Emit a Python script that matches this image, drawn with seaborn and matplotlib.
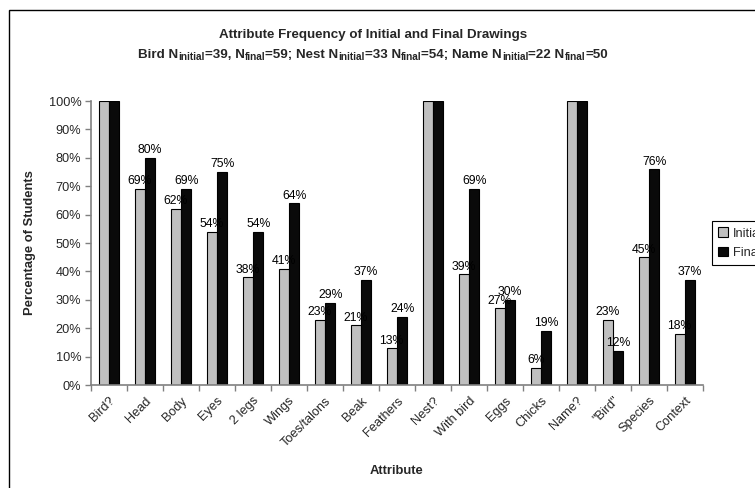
import matplotlib
matplotlib.use("Agg")
import matplotlib.pyplot as plt
import seaborn as sns
import pandas as pd
from matplotlib.patches import Patch, Rectangle

categories = ["Bird?", "Head", "Body", "Eyes", "2 legs", "Wings", "Toes/talons", "Beak",
              "Feathers", "Nest?", "With bird", "Eggs", "Chicks", "Name?", "\"Bird\"",
              "Species", "Context"]
initial = [100, 69, 62, 54, 38, 41, 23, 21, 13, 100, 39, 27, 6, 100, 23, 45, 18]
final = [100, 80, 69, 75, 54, 64, 29, 37, 24, 100, 69, 30, 19, 100, 12, 76, 37]
series_names = ["Initial", "Final"]
yticks = [0, 10, 20, 30, 40, 50, 60, 70, 80, 90, 100]
no_label = {"Bird?", "Nest?", "Name?"}
title = "Attribute Frequency of Initial and Final Drawings"
subtitle_parts = [("Bird N", False), ("initial", True), ("=39, N", False), ("final", True),
                  ("=59; Nest N", False), ("initial", True), ("=33 N", False), ("final", True),
                  ("=54; Name N", False), ("initial", True), ("=22 N", False), ("final", True),
                  ("=50", False)]

sns.set_theme(style="white")
plt.rcParams["font.family"] = ["Liberation Sans", "DejaVu Sans"]

df = pd.DataFrame({
    "Attribute": categories * 2,
    "Value": initial + final,
    "Series": [series_names[0]] * len(categories) + [series_names[1]] * len(categories),
})

W, H = 755, 488
fig = plt.figure(figsize=(W / 100, H / 100), dpi=100)
fig.patch.set_facecolor("white")
ax = fig.add_axes([91 / W, 1 - 385 / H, (703 - 91) / W, (385 - 101) / H])

colors = {"Initial": "#C0C0C0", "Final": "#0A0A0A"}
sns.barplot(data=df, x="Attribute", y="Value", hue="Series", order=categories,
            hue_order=series_names, palette=colors, width=0.58, gap=0,
            edgecolor="black", linewidth=0.8, saturation=1, ax=ax, legend=False,
            errorbar=None)

TICK_FS = 9.2
ax.set_xlim(-0.5, len(categories) - 0.5)
ax.set_ylim(0, 100)
ax.set_yticks(yticks)
ax.set_yticklabels([f"{t}%" for t in yticks], fontsize=TICK_FS)
ax.set_xticks(range(len(categories)))
ax.set_xticklabels(categories, rotation=45, ha="right", rotation_mode="anchor", fontsize=TICK_FS)
ax.tick_params(axis="x", which="major", length=0, pad=7)
ax.set_xticks([i - 0.5 for i in range(len(categories) + 1)], minor=True)
ax.tick_params(axis="x", which="minor", length=4, width=1, color="#808080", direction="out")
ax.tick_params(axis="y", length=4, width=1, color="#808080", direction="out", pad=3)
for s in ["top", "right"]:
    ax.spines[s].set_visible(False)
for s in ["left", "bottom"]:
    ax.spines[s].set_color("#808080")
    ax.spines[s].set_linewidth(1.2)
ax.yaxis.set_ticks_position("left")
ax.xaxis.set_ticks_position("bottom")

ax.set_xlabel("Attribute", fontsize=9.4, fontweight="bold", labelpad=12)
ax.set_ylabel("Percentage of Students", fontsize=9.4, fontweight="bold", labelpad=9)

for p in ax.patches:
    p.set_zorder(2)

# value labels (drawn over bars)
for i, cat in enumerate(categories):
    if cat in no_label:
        continue
    for off, vals in ((-0.145, initial), (0.145, final)):
        v = vals[i]
        ax.text(i + off, v + 1.6, f"{v}%", ha="center", va="baseline",
                fontsize=8.8, zorder=3, color="black")

CX = 373
fig.text(CX / W, 1 - 35 / H, title, ha="center", va="center", fontsize=9.6, fontweight="bold")

# subtitle with subscripts, laid out piece by piece
renderer = fig.canvas.get_renderer()
MAIN_FS, SUB_FS = 9.6, 7.2
base_y = 1 - 57.5 / H
sub_y = 1 - 60.5 / H
pieces = []
for txt, is_sub in subtitle_parts:
    t = fig.text(0, sub_y if is_sub else base_y, txt, ha="left", va="baseline",
                 fontsize=SUB_FS if is_sub else MAIN_FS, fontweight="bold")
    w = t.get_window_extent(renderer).width
    pieces.append((t, w))
total = sum(w for _, w in pieces)
x = CX - total / 2
for t, w in pieces:
    t.set_x(x / W)
    x += w

handles = [Patch(facecolor=colors[n], edgecolor="black", linewidth=0.8) for n in series_names]
leg = fig.legend(handles, series_names, loc="upper left",
                 bbox_to_anchor=(712 / W, 1 - 221 / H), fontsize=9.2,
                 frameon=True, fancybox=False, edgecolor="black", framealpha=1,
                 handlelength=0.75, handleheight=0.75, handletextpad=0.4,
                 borderpad=0.5, labelspacing=0.55, borderaxespad=0)
leg.get_frame().set_linewidth(0.8)

fig.patches.append(Rectangle((9 / W, -0.1), 1.2, 1 - 10 / H + 0.1,
                             transform=fig.transFigure, fill=False,
                             edgecolor="black", linewidth=1.0))

fig.savefig("out.png", dpi=100)
